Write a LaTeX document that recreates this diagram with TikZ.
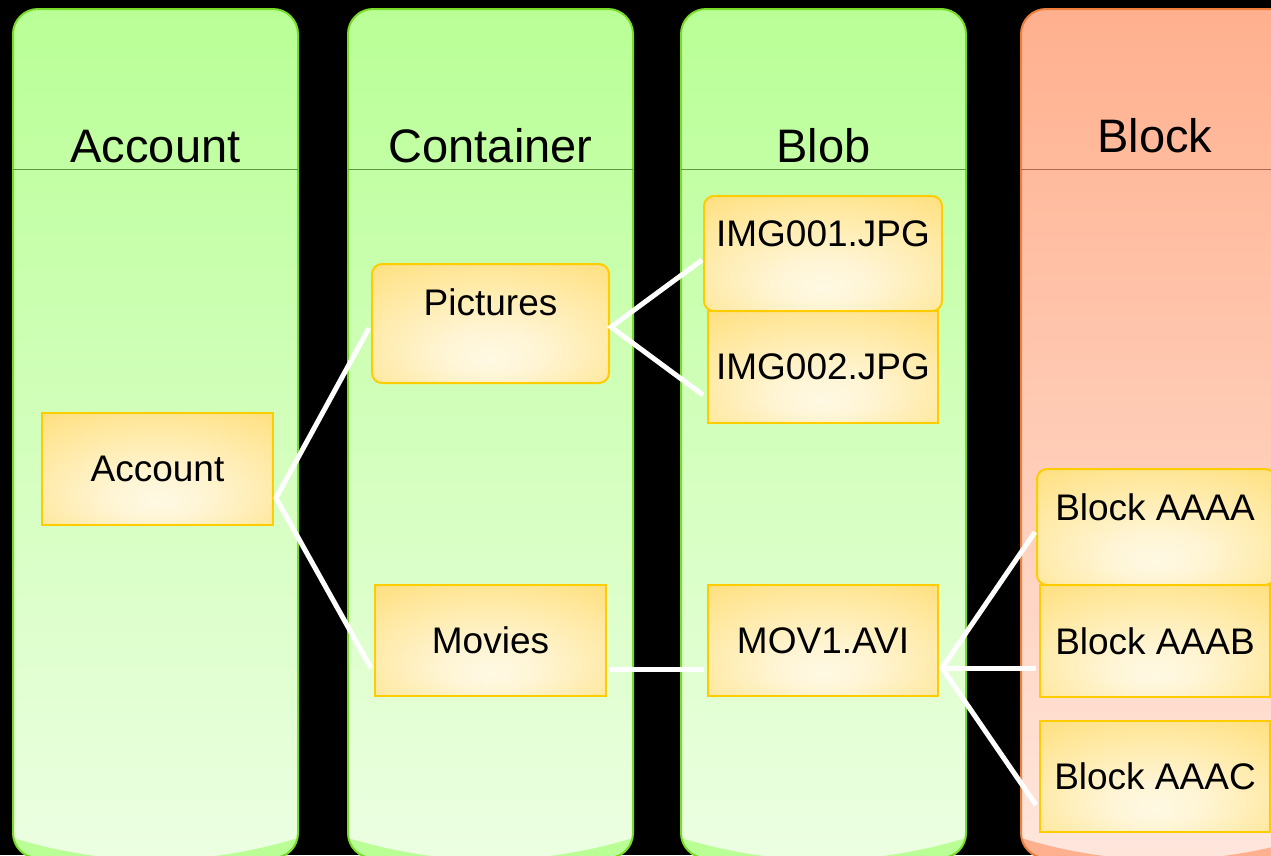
\documentclass[tikz,border=0pt]{standalone}
\usepackage{fontspec}
\setmainfont{Liberation Sans}
\usetikzlibrary{calc}
\definecolor{gTop}{RGB}{185,255,150}
\definecolor{gBot}{RGB}{236,255,226}
\definecolor{gBor}{RGB}{120,220,40}
\definecolor{gLine}{RGB}{95,150,65}
\definecolor{sTop}{RGB}{255,176,142}
\definecolor{sBot}{RGB}{255,230,220}
\definecolor{sBor}{RGB}{240,125,60}
\definecolor{sLine}{RGB}{170,105,80}
\definecolor{yEdge}{RGB}{255,224,128}
\definecolor{yCen}{RGB}{255,249,228}
\definecolor{yBor}{RGB}{255,204,0}
\pgfdeclareradialshading{boxshade}{\pgfpoint{0bp}{-15bp}}{color(0bp)=(yCen); color(10bp)=(yCen!85!yEdge); color(40bp)=(yEdge); color(70bp)=(yEdge)}
\tikzset{
  box/.style={rectangle, draw=yBor, line width=2pt, shade, shading=boxshade, inner sep=0pt, font=\fontsize{37}{40}\selectfont},
  rbox/.style={box, rounded corners=10pt},
  lbl/.style={anchor=base, inner sep=0pt, font=\fontsize{37}{40}\selectfont},
  head/.style={anchor=base, inner sep=0pt, font=\fontsize{47}{50}\selectfont},
  conn/.style={draw=white, line width=5pt},
}
\begin{document}
\begin{tikzpicture}[x=1pt,y=-1pt]
\useasboundingbox (0,0) rectangle (1271,855);
\fill[black] (0,0) rectangle (1271,855);
\clip (0,0) rectangle (1271,855);
% columns
\foreach \xa/\ct/\cb/\cr/\cl in {13/gTop/gBot/gBor/gLine, 348/gTop/gBot/gBor/gLine, 681/gTop/gBot/gBor/gLine, 1021/sTop/sBot/sBor/sLine}{
  \pgfmathsetmacro\xb{\xa+285}
  \path[top color=\ct, bottom color=\cb, rounded corners=25pt] (\xa,9) rectangle (\xb,858);
  \begin{scope}
    \clip[rounded corners=25pt] (\xa,9) rectangle (\xb,858);
    \fill[\ct] (\xa,838) .. controls (\xa+95,867) and (\xb-95,867) .. (\xb,838) -- (\xb,900) -- (\xa,900) -- cycle;
  \end{scope}
  \draw[\cr, line width=2pt, rounded corners=25pt] (\xa,9) rectangle (\xb,858);
  \draw[\cl, line width=1pt] (\xa,169) -- (\xb,169);
}
% headers
\node[head] (hacc) at (155.5,162) {Account};
\node[head] (hcon) at (490.5,162) {Container};
\node[head] (hblob) at (823.5,162) {Blob};
\node[head] (hblk) at (1155,152) {Block};
% boxes
\node[box, minimum width=231pt, minimum height=112pt] (acc) at (157.5,469) {Account};
\node[rbox, minimum width=237pt, minimum height=119pt] (pic) at (490.5,323.5) {};
\node[lbl] (tpic) at (490.5,315) {Pictures};
\node[box, minimum width=231pt, minimum height=111pt] (mov) at (490.5,640.5) {Movies};
\node[box, minimum width=230pt, minimum height=112pt] (img2) at (823,367) {IMG002.JPG};
\node[rbox, minimum width=238pt, minimum height=115pt] (img1) at (823,253.5) {};
\node[lbl] (timg1) at (823,246) {IMG001.JPG};
\node[box, minimum width=230pt, minimum height=111pt] (mov1) at (823,640.5) {MOV1.AVI};
\node[box, minimum width=230pt, minimum height=112pt] (bb) at (1155,641) {Block AAAB};
\node[rbox, minimum width=238pt, minimum height=116pt] (ba) at (1156,527) {};
\node[lbl] (tba) at (1155,520) {Block AAAA};
\node[box, minimum width=230pt, minimum height=111pt] (bc) at (1155,776.5) {Block AAAC};
% connector end points
\coordinate (accR) at ($(acc.east)+(2,29)$);
\coordinate (picL) at ($(pic.west)+(-2,4.5)$);
\coordinate (picR) at ($(pic.east)+(1,3.5)$);
\coordinate (movL) at ($(mov.west)+(-3,27.5)$);
\coordinate (movR) at ($(mov.east)+(3,28.5)$);
\coordinate (img1L) at ($(img1.west)+(-1,6.5)$);
\coordinate (img2L) at ($(img2.west)+(-4,28)$);
\coordinate (mov1L) at ($(mov1.west)+(-3,28.5)$);
\coordinate (mov1R) at ($(mov1.east)+(3,27.5)$);
\coordinate (baL) at ($(ba.west)+(-1,5)$);
\coordinate (bbL) at ($(bb.west)+(-3,27)$);
\coordinate (bcL) at ($(bc.west)+(-3,28.5)$);
% connectors
\draw[conn] (picL) -- (accR) -- (movL);
\draw[conn] (img1L) -- (picR) -- (img2L);
\draw[conn] (movR) -- (mov1L);
\draw[conn] (baL) -- (mov1R) -- (bcL);
\draw[conn] (mov1R) -- (bbL);
\end{tikzpicture}
\end{document}
